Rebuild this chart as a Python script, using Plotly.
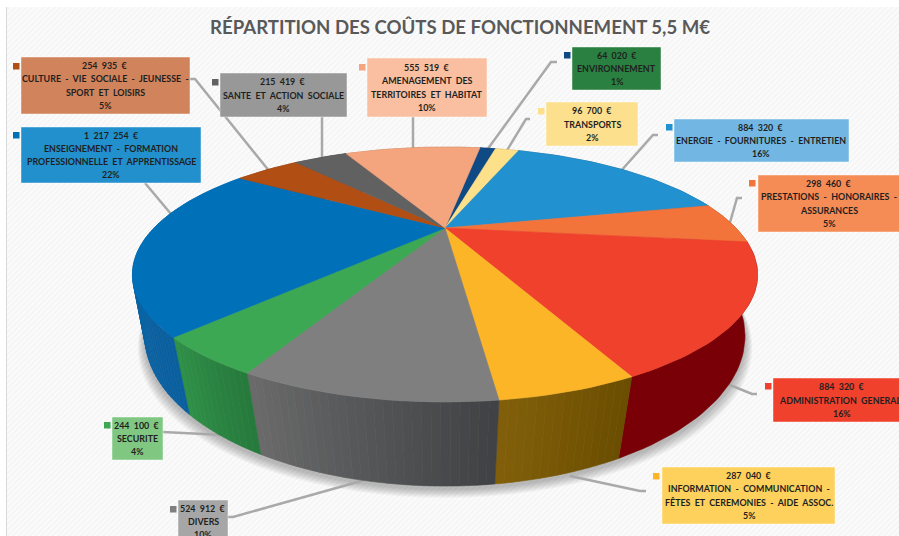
import math
import plotly.graph_objects as go

TITLE = "RÉPARTITION DES COÛTS DE FONCTIONNEMENT 5,5 M€"

# Data, clockwise from the first slice
names = ["ENVIRONNEMENT", "TRANSPORTS", "ENERGIE - FOURNITURES - ENTRETIEN",
         "PRESTATIONS - HONORAIRES -<br>ASSURANCES", "ADMINISTRATION GENERALE",
         "INFORMATION - COMMUNICATION -<br>FÊTES ET CEREMONIES - AIDE ASSOC.",
         "DIVERS", "SECURITE",
         "ENSEIGNEMENT - FORMATION<br>PROFESSIONNELLE ET APPRENTISSAGE",
         "CULTURE - VIE SOCIALE - JEUNESSE -<br>SPORT ET LOISIRS",
         "SANTE ET ACTION SOCIALE", "AMENAGEMENT DES<br>TERRITOIRES ET HABITAT"]
values = [64020, 96700, 884320, 298460, 884320, 287040, 524912, 244100, 1217254, 254935, 215419, 555519]
percents = [1, 2, 16, 5, 16, 5, 10, 4, 22, 5, 4, 10]

top_colors = ["#0f4a85", "#fde08a", "#2291d0", "#f2743a", "#f0412d", "#fdb528",
              "#7f7f7f", "#3ca853", "#0070b8", "#b04e14", "#616161", "#f4a57e"]
side_from = ["#0a3560", "#b09a50", "#15608c", "#a04a20", "#780006", "#6a4d00",
             "#3f4144", "#26793b", "#0a5f9e", "#7a3208", "#404040", "#a87050"]
side_to = ["#0a3560", "#b09a50", "#15608c", "#a04a20", "#780006", "#82600a",
           "#6b6b6b", "#2f9149", "#0a6cae", "#7a3208", "#404040", "#a87050"]
box_colors = ["#2a8040", "#fde08d", "#72b7e3", "#f58b55", "#f0412d", "#fdd15c",
              "#a6a6a6", "#80c882", "#2290cc", "#d1835c", "#989898", "#f9bfa0"]

# label box: x0, x1, y0, y1, text centre x, text centre y; marker x0, y0
boxes = [(572, 661, 47, 90, 616.5, 68.5, 564, 52),
         (546, 638, 102, 146, 592, 124, 538, 108),
         (674, 849, 119, 162, 761, 140.5, 666, 124),
         (758, 901, 175, 232, 829, 203.5, 749, 180),
         (773, 901, 378, 422, 842, 400, 765, 383),
         (662, 835, 467, 524, 748.5, 495.5, 653, 473),
         (178, 228, 500, 540, 203, 521.6, 170, 506),
         (112, 163, 417, 460, 137, 438.5, 104, 422),
         (21, 201, 127, 183, 111, 155, 13, 132),
         (21, 190, 57, 114, 105, 85.5, 13, 63),
         (220, 347, 73, 117, 283, 95, 212, 79),
         (367, 487, 58, 117, 427, 87.5, 359, 64)]

leaders = [[(557, 62), (551, 62), (487, 150)],
           [(530, 119), (526, 119), (506, 152)],
           [(658, 135), (653, 135), (620, 172)],
           [(742, 198), (737, 198), (729, 226)],
           [(757, 394), (752, 394), (725, 383)],
           [(646, 491), (640, 491), (570, 476)],
           [(228, 517), (233, 517), (372, 478)],
           [(163, 432), (224, 435)],
           [(145, 183), (176, 220)],
           [(190, 79), (195, 79), (270, 172)],
           [(322, 117), (322, 160)],
           [(413, 117), (413, 150)]]

# Projection of the disc (perspective)
START = 9.4
CX = 445
TOP = dict(y0=228.0, A=291.0, B=110.5, k=0.365)
BOT = dict(y0=286.5, A=283.2, B=133.7, k=0.33)
LINE_H = 13.3


def proj(deg, p, dy=0.0, grow=1.0):
    t = math.radians(deg)
    u, v = math.sin(t), math.cos(t)
    d = 1 + p["k"] * v
    return CX + grow * p["A"] * u / d, p["y0"] + dy - p["B"] * v / d


def mix(a, b, f):
    ca = [int(a[i:i + 2], 16) for i in (1, 3, 5)]
    cb = [int(b[i:i + 2], 16) for i in (1, 3, 5)]
    return "rgb(%d,%d,%d)" % tuple(round(x + (y - x) * f) for x, y in zip(ca, cb))


def poly(fig, pts, color, edge=True):
    fig.add_trace(go.Scatter(x=[p[0] for p in pts], y=[p[1] for p in pts],
                             mode="lines" if edge else "none",
                             fill="toself", fillcolor=color,
                             line=dict(color=color, width=0.6) if edge else None,
                             hoverinfo="skip", showlegend=False))


fig = go.Figure()

# hatched background
fig.add_trace(go.Scatter(x=[7, 899, 899, 7, 7], y=[7, 7, 536, 536, 7], mode="lines", fill="toself",
                         line=dict(width=0), fillcolor="#f6f6f6",
                         fillpattern=dict(shape="/", size=4, solidity=0.45, fgcolor="#ededed", bgcolor="#fbfbfb"),
                         hoverinfo="skip", showlegend=False))

# soft shadow
for i in range(10, 0, -1):
    pts = [proj(a, BOT, dy=3 + i * 0.9, grow=1 + i * 0.0025) for a in range(0, 361, 3)]
    poly(fig, pts, "rgba(0,0,0,0.028)", edge=False)

# leader lines
for ln in leaders:
    fig.add_trace(go.Scatter(x=[p[0] for p in ln], y=[p[1] for p in ln], mode="lines",
                             line=dict(color="#a9a9a9", width=2.5), hoverinfo="skip", showlegend=False))

total = sum(values)
spans = []
a0 = START
for v in values:
    a1 = a0 + 360 * v / total
    spans.append((a0, a1))
    a0 = a1

# sides: strips carry the gradient
for (a0, a1), c0, c1 in zip(spans, side_from, side_to):
    n = 1 if c0 == c1 else max(2, int((a1 - a0) / 1.2))
    for j in range(n):
        s = a0 + (a1 - a0) * j / n
        e = a0 + (a1 - a0) * (j + 1) / n
        m = max(3, int((e - s) / 1.5))
        g2 = [s + (e - s) * q / m for q in range(m + 1)]
        pts = [proj(g, TOP) for g in g2] + [proj(g, BOT) for g in reversed(g2)]
        poly(fig, pts + pts[:1], mix(c0, c1, (j + 0.5) / n))

# top faces
apex = (CX, TOP["y0"])
for (a0, a1), col in zip(spans, top_colors):
    n = max(4, int((a1 - a0) / 1.5))
    rim = [proj(a0 + (a1 - a0) * j / n, TOP) for j in range(n + 1)]
    poly(fig, [apex] + rim + [apex], col)

shapes = [dict(type="line", xref="x", yref="y", x0=6.5, x1=6.5, y0=7, y1=536,
               line=dict(color="#d9d9d9", width=1))]
annotations = [dict(x=460, y=27, xref="x", yref="y", text="<b>" + TITLE + "</b>", showarrow=False,
                    font=dict(family="Lato", size=18.6, color="#595959"), xanchor="center", yanchor="middle")]

for name, val, pct, b, bc, tc in zip(names, values, percents, boxes, box_colors, top_colors):
    x0, x1, y0, y1, tx, ty, mx, my = b
    shapes.append(dict(type="rect", xref="x", yref="y", x0=x0, x1=x1, y0=y0, y1=y1, layer="above",
                       fillcolor=bc, line=dict(color="rgba(255,255,255,0.45)", width=1)))
    shapes.append(dict(type="rect", xref="x", yref="y", x0=mx, x1=mx + 6.5, y0=my, y1=my + 6.5, layer="above",
                       fillcolor=tc, line=dict(width=0)))
    amount = f"{val:,}".replace(",", "\u00a0\u00a0") + "\u00a0\u00a0€"
    lines = [amount] + name.replace(" ", "\u00a0\u00a0").split("<br>") + [f"{pct}%"]
    for i, ln in enumerate(lines):
        annotations.append(dict(x=tx, y=ty + (i - (len(lines) - 1) / 2) * LINE_H, xref="x", yref="y",
                                text="<b>" + ln + "</b>", showarrow=False,
                                font=dict(family="Lato", size=8.9, color="#1f1f1f"),
                                xanchor="center", yanchor="middle"))

fig.update_layout(width=899, height=536, margin=dict(l=0, r=0, t=0, b=0),
                  paper_bgcolor="white", plot_bgcolor="white", showlegend=False,
                  shapes=shapes, annotations=annotations,
                  xaxis=dict(range=[0, 899], visible=False, fixedrange=True),
                  yaxis=dict(range=[536, 0], visible=False, fixedrange=True))

fig.write_html("out.html", config=dict(displayModeBar=False),
               post_script="document.body.style.margin='0';document.body.style.overflow='hidden';")
